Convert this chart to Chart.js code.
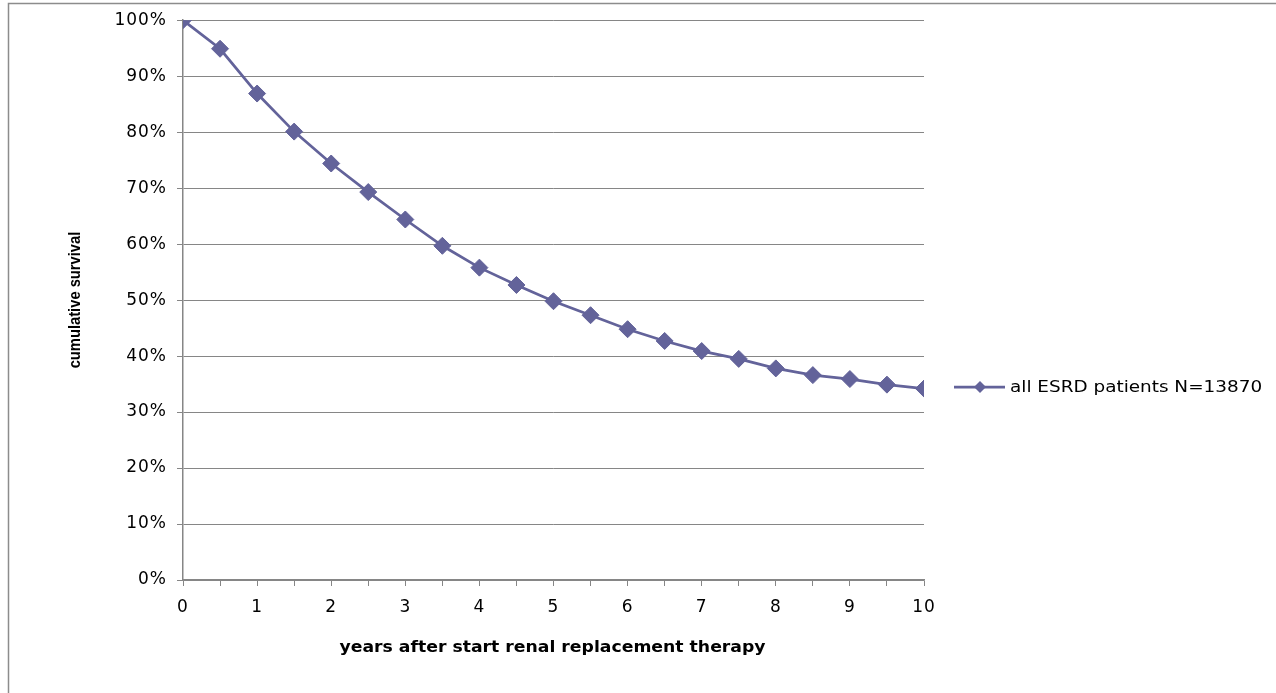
<!DOCTYPE html>
<html>
<head>
<meta charset="utf-8">
<title>Cumulative survival</title>
<script src="https://cdn.jsdelivr.net/npm/chart.js@4.4.1/dist/chart.umd.min.js"></script>
<style>
  html, body { margin: 0; padding: 0; background: #ffffff; }
  #wrap { width: 1276px; height: 693px; }
</style>
</head>
<body>
<div id="wrap"><canvas id="c" width="1276" height="693"></canvas></div>
<script>
// Years after start of renal replacement therapy (half-year steps)
const years = [0, 0.5, 1, 1.5, 2, 2.5, 3, 3.5, 4, 4.5, 5, 5.5, 6, 6.5, 7, 7.5, 8, 8.5, 9, 9.5, 10];
// Cumulative survival, percent
const survival = [100, 94.9, 86.9, 80.1, 74.4, 69.3, 64.4, 59.7, 55.8, 52.7, 49.8,
                  47.3, 44.8, 42.7, 40.9, 39.5, 37.8, 36.6, 35.9, 34.9, 34.2];
// Axis tick positions
const xTicks = [0, 0.5, 1, 1.5, 2, 2.5, 3, 3.5, 4, 4.5, 5, 5.5, 6, 6.5, 7, 7.5, 8, 8.5, 9, 9.5, 10];
const yTicks = [0, 10, 20, 30, 40, 50, 60, 70, 80, 90, 100];

const seriesName = 'all ESRD patients N=13870';
const xTitle = 'years after start renal replacement therapy';
const yTitle = 'cumulative survival';

const LINE = '#63639a';
const AXIS = '#868686';
const TICK_FONT = { family: 'DejaVu Sans', size: 17 };
const WIDE = 1.15; // horizontal stretch of the wide text

const points = years.map((x, i) => ({ x: x, y: survival[i] }));

// Draws text stretched horizontally around its anchor point
function wideText(ctx, text, x, y, align) {
  ctx.save();
  ctx.translate(x, y);
  ctx.scale(WIDE, 1);
  ctx.textAlign = align;
  ctx.textBaseline = 'middle';
  ctx.fillText(text, 0, 0);
  ctx.restore();
}

// Outer frame, axis titles and legend drawn on the same canvas
const decorations = {
  id: 'decorations',
  beforeDraw(chart) {
    const ctx = chart.ctx;
    ctx.fillStyle = '#ffffff';
    ctx.fillRect(0, 0, chart.width, chart.height);
    ctx.save();
    ctx.strokeStyle = '#8c8c8c';
    ctx.lineWidth = 1.5;
    ctx.strokeRect(8.5, 3.5, chart.width + 20, chart.height + 20);
    ctx.restore();
    // slightly open tracking for the tick labels
    ctx.letterSpacing = '1px';
  },
  afterDraw(chart) {
    const ctx = chart.ctx;
    const area = chart.chartArea;
    ctx.save();
    ctx.letterSpacing = '0px';
    // x axis title
    ctx.fillStyle = '#000000';
    ctx.font = 'bold 15px "DejaVu Sans"';
    wideText(ctx, xTitle, (area.left + area.right) / 2 - 1, 648, 'center');
    // y axis title (condensed bold, rotated)
    ctx.save();
    ctx.translate(75, 300);
    ctx.rotate(-Math.PI / 2);
    ctx.scale(0.92, 1.08);
    ctx.font = 'bold 16px "Liberation Sans Narrow", "Liberation Sans", sans-serif';
    ctx.textAlign = 'center';
    ctx.textBaseline = 'middle';
    ctx.fillText(yTitle, 0, 0);
    ctx.restore();
    // legend
    const ly = 387;
    ctx.strokeStyle = LINE;
    ctx.lineWidth = 2.75;
    ctx.beginPath();
    ctx.moveTo(954, ly);
    ctx.lineTo(1005, ly);
    ctx.stroke();
    ctx.fillStyle = LINE;
    ctx.beginPath();
    const r = 6;
    ctx.moveTo(980, ly - r);
    ctx.lineTo(980 + r, ly);
    ctx.lineTo(980, ly + r);
    ctx.lineTo(980 - r, ly);
    ctx.closePath();
    ctx.fill();
    ctx.fillStyle = '#000000';
    ctx.font = '16px "DejaVu Sans"';
    wideText(ctx, seriesName, 1010, ly + 1, 'left');
    ctx.restore();
  }
};

new Chart(document.getElementById('c'), {
  type: 'line',
  data: {
    datasets: [{
      label: seriesName,
      data: points,
      borderColor: LINE,
      backgroundColor: LINE,
      borderWidth: 2.75,
      pointStyle: 'rectRot',
      pointRadius: 8.5,
      pointBorderWidth: 1,
      pointBackgroundColor: LINE,
      pointBorderColor: LINE,
      tension: 0,
      fill: false
    }]
  },
  options: {
    responsive: false,
    animation: false,
    layout: { padding: { top: 20, right: 352, bottom: 0, left: 0 } },
    plugins: { legend: { display: false }, tooltip: { enabled: false } },
    scales: {
      x: {
        type: 'linear',
        min: 0,
        max: 10,
        afterBuildTicks(scale) { scale.ticks = xTicks.map(v => ({ value: v })); },
        afterFit(scale) { scale.height = 113; },
        ticks: {
          autoSkip: false,
          maxRotation: 0,
          padding: 11,
          color: '#000000',
          font: TICK_FONT,
          callback: v => (Number.isInteger(v) ? String(v) : '')
        },
        grid: { drawOnChartArea: false, drawTicks: true, tickLength: 6, color: AXIS, lineWidth: 1 },
        border: { display: true, color: AXIS, width: 1.5 }
      },
      y: {
        min: 0,
        max: 100,
        afterBuildTicks(scale) { scale.ticks = yTicks.map(v => ({ value: v })); },
        afterFit(scale) { scale.width = 183; },
        ticks: {
          padding: 10,
          color: '#000000',
          font: TICK_FONT,
          callback: v => v + '%'
        },
        grid: { color: AXIS, lineWidth: 1, tickLength: 6 },
        border: { display: true, color: AXIS, width: 1.5 }
      }
    }
  },
  plugins: [decorations]
});
</script>
</body>
</html>
